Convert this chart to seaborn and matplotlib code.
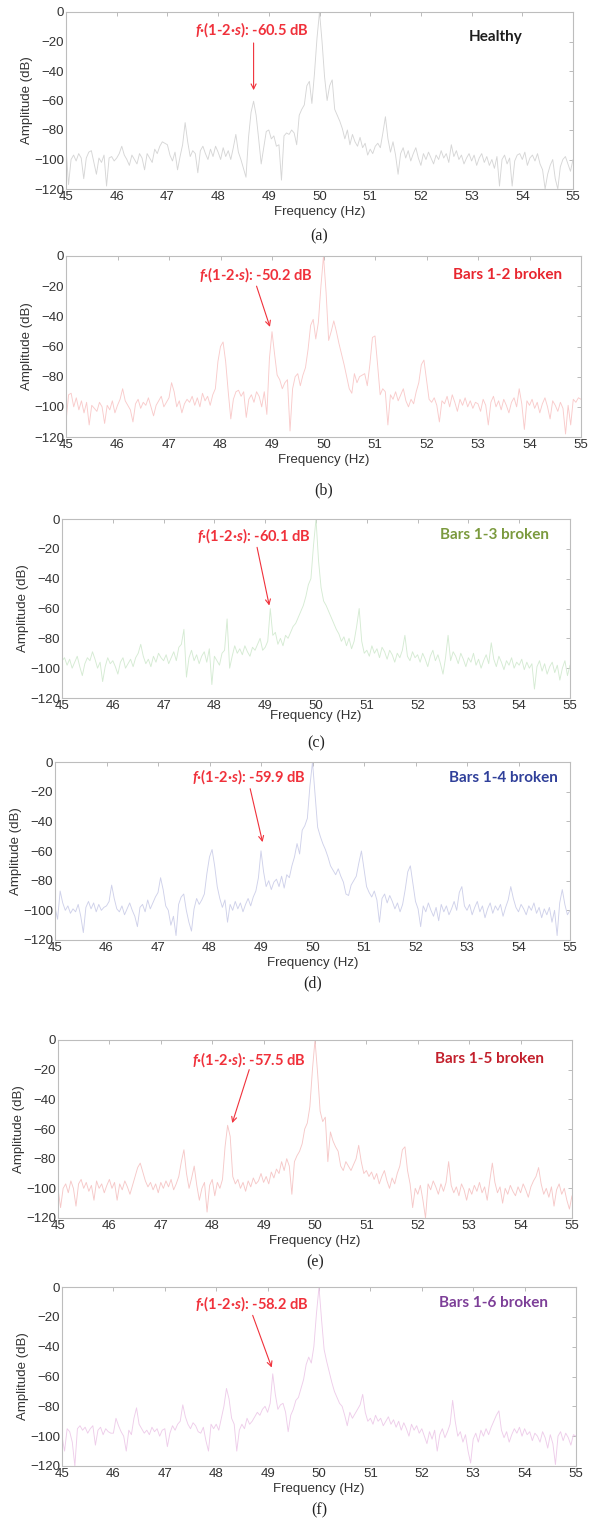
import numpy as np
import pandas as pd
import matplotlib
matplotlib.use("Agg")
import matplotlib.pyplot as plt
import seaborn as sns

# Frequency grid of the zoomed spectra (Hz), 0.05 Hz resolution
freq_hz = np.round(np.arange(45.0, 55.0001, 0.05), 2)

# Amplitude spectra (dB), one list per motor condition, 20 samples per Hz
amp_healthy = [
    -92, -117, -100, -97, -101, -96, -99, -113, -99, -95, -94, -102, -110, -99, -102, -97, -118, -99, -98, -101,
    -99, -96, -91, -97, -100, -104, -97, -100, -103, -96, -99, -107, -96, -99, -102, -93, -96, -91, -88, -89,
    -90, -97, -101, -95, -107, -98, -90, -75, -88, -98, -94, -96, -109, -94, -91, -96, -100, -93, -98, -91,
    -95, -100, -92, -98, -94, -100, -92, -83, -95, -100, -106, -112, -85, -68, -60.5, -70, -86, -103, -92, -81,
    -80, -86, -84, -91, -90, -114, -84, -82, -83, -80, -82, -90, -70, -66, -63, -50, -47, -62, -42, -18,
    0, -20, -44, -60, -50, -46, -66, -70, -74, -79, -86, -80, -90, -83, -88, -91, -85, -92, -89, -97,
    -93, -96, -91, -89, -92, -82, -71, -86, -95, -88, -97, -110, -96, -92, -99, -94, -101, -96, -92, -99,
    -104, -96, -100, -95, -99, -103, -97, -100, -94, -99, -96, -102, -90, -98, -94, -100, -97, -103, -99, -96,
    -101, -97, -104, -99, -96, -102, -98, -104, -100, -106, -98, -118, -100, -97, -103, -99, -118, -101, -97, -96,
    -100, -95, -104, -99, -97, -101, -96, -103, -107, -120, -110, -104, -100, -113, -120, -105, -100, -98, -103, -108,
    -100,
]
amp_bars_1_2 = [
    -110, -92, -91, -100, -94, -102, -96, -104, -97, -112, -99, -101, -103, -97, -100, -111, -99, -102, -96, -104,
    -99, -95, -88, -96, -99, -102, -110, -98, -95, -101, -97, -99, -94, -100, -106, -99, -96, -93, -100, -97,
    -94, -84, -90, -100, -96, -104, -98, -95, -97, -93, -99, -94, -100, -91, -96, -93, -99, -92, -88, -70,
    -60, -57, -70, -90, -108, -95, -90, -89, -93, -90, -107, -95, -92, -97, -90, -93, -100, -90, -105, -68,
    -50.2, -65, -79, -82, -88, -84, -82, -116, -88, -80, -78, -86, -79, -74, -62, -46, -42, -55, -44, -20,
    0, -24, -56, -50, -43, -50, -58, -65, -72, -80, -88, -91, -78, -84, -80, -79, -78, -86, -72, -54,
    -53, -72, -92, -88, -90, -112, -92, -95, -90, -96, -92, -88, -96, -100, -95, -98, -90, -84, -72, -69,
    -82, -95, -97, -94, -99, -110, -96, -98, -93, -100, -92, -97, -103, -95, -99, -94, -100, -96, -101, -97,
    -98, -103, -95, -99, -112, -97, -93, -100, -96, -102, -95, -99, -104, -97, -94, -100, -88, -98, -115, -96,
    -99, -95, -101, -97, -104, -98, -94, -100, -108, -96, -99, -103, -97, -101, -118, -99, -112, -95, -97, -94,
    -95,
]
amp_bars_1_3 = [
    -95, -93, -98, -94, -100, -96, -92, -99, -105, -97, -93, -95, -89, -94, -100, -96, -109, -99, -93, -97,
    -95, -99, -104, -96, -93, -100, -97, -94, -99, -93, -90, -84, -92, -97, -94, -99, -92, -96, -90, -93,
    -95, -91, -97, -93, -89, -95, -86, -84, -74, -106, -93, -88, -95, -91, -97, -92, -89, -96, -87, -111,
    -92, -95, -98, -90, -88, -67, -100, -92, -85, -90, -87, -91, -85, -89, -92, -86, -88, -84, -80, -88,
    -86, -82, -60.1, -78, -76, -84, -80, -85, -78, -80, -76, -72, -70, -66, -62, -58, -52, -44, -40, -18,
    0, -28, -46, -55, -58, -62, -66, -70, -74, -77, -82, -79, -85, -80, -87, -82, -72, -60, -82, -90,
    -88, -92, -85, -90, -87, -93, -86, -89, -94, -88, -91, -96, -90, -93, -88, -78, -92, -95, -89, -93,
    -91, -96, -90, -94, -99, -92, -88, -95, -91, -97, -104, -93, -78, -95, -89, -92, -97, -90, -94, -99,
    -93, -96, -90, -98, -94, -100, -95, -91, -97, -83, -94, -99, -92, -96, -101, -95, -98, -93, -100, -96,
    -98, -94, -101, -96, -100, -97, -114, -99, -95, -102, -97, -104, -99, -96, -103, -98, -108, -100, -95, -105,
    -98,
]
amp_bars_1_4 = [
    -98, -106, -87, -95, -100, -97, -102, -99, -101, -96, -104, -115, -98, -94, -99, -95, -101, -96, -100, -98,
    -97, -94, -83, -92, -99, -101, -97, -103, -99, -95, -100, -104, -111, -98, -96, -101, -93, -99, -95, -91,
    -88, -78, -86, -97, -100, -110, -104, -117, -96, -91, -89, -100, -108, -114, -99, -92, -96, -93, -89, -75,
    -64, -59, -70, -84, -92, -98, -93, -108, -96, -100, -94, -99, -95, -101, -96, -92, -97, -91, -87, -78,
    -59.9, -74, -84, -80, -86, -81, -79, -84, -77, -85, -76, -78, -70, -64, -55, -62, -46, -43, -38, -16,
    0, -22, -44, -50, -55, -59, -64, -70, -73, -76, -72, -77, -81, -89, -90, -83, -80, -77, -68, -60,
    -72, -84, -88, -91, -87, -93, -108, -92, -89, -95, -90, -94, -99, -95, -101, -96, -86, -74, -70, -82,
    -94, -99, -111, -97, -101, -95, -100, -104, -98, -107, -96, -101, -97, -103, -99, -94, -100, -88, -84, -97,
    -100, -96, -103, -98, -94, -101, -97, -105, -99, -95, -102, -97, -100, -96, -104, -98, -93, -84, -92, -98,
    -101, -96, -99, -103, -97, -100, -95, -102, -98, -105, -99, -103, -98, -108, -100, -117, -95, -86, -96, -103,
    -100,
]
amp_bars_1_5 = [
    -100, -113, -100, -97, -103, -95, -100, -112, -97, -94, -100, -96, -102, -98, -108, -95, -100, -97, -103, -98,
    -94, -100, -96, -108, -97, -101, -95, -99, -104, -98, -92, -86, -83, -89, -95, -99, -96, -101, -97, -103,
    -96, -100, -95, -99, -94, -101, -97, -92, -82, -74, -90, -100, -93, -85, -98, -108, -100, -96, -116, -98,
    -94, -105, -96, -100, -94, -72, -57.5, -65, -92, -97, -94, -100, -96, -102, -95, -99, -93, -97, -95, -90,
    -96, -92, -97, -89, -93, -87, -90, -82, -88, -80, -85, -104, -82, -78, -75, -70, -60, -56, -45, -20,
    0, -22, -48, -55, -52, -82, -62, -68, -72, -75, -85, -88, -82, -85, -88, -84, -80, -71, -82, -90,
    -88, -92, -89, -94, -90, -97, -92, -88, -95, -100, -93, -97, -90, -85, -74, -72, -88, -97, -113, -100,
    -104, -98, -108, -120, -97, -101, -95, -99, -104, -97, -102, -96, -82, -98, -103, -99, -105, -97, -101, -108,
    -100, -104, -98, -102, -96, -103, -99, -108, -95, -83, -96, -103, -99, -110, -100, -104, -98, -102, -105, -99,
    -103, -97, -101, -106, -99, -95, -92, -86, -97, -104, -100, -106, -99, -112, -101, -97, -104, -100, -108, -114,
    -105,
]
amp_bars_1_6 = [
    -100, -110, -95, -97, -104, -120, -95, -93, -96, -94, -98, -95, -93, -106, -96, -94, -99, -95, -97, -98,
    -98, -88, -93, -97, -100, -110, -96, -99, -88, -81, -92, -95, -98, -96, -99, -94, -97, -95, -100, -96,
    -95, -107, -98, -93, -96, -92, -90, -79, -87, -92, -95, -91, -93, -97, -98, -94, -103, -110, -92, -95,
    -92, -96, -88, -80, -68, -75, -88, -92, -110, -96, -92, -95, -88, -92, -90, -87, -84, -86, -82, -80,
    -84, -78, -58.2, -72, -82, -79, -78, -84, -97, -86, -82, -76, -74, -68, -62, -52, -47, -51, -40, -18,
    0, -22, -42, -50, -57, -64, -70, -74, -78, -80, -86, -93, -84, -88, -85, -82, -79, -72, -84, -90,
    -88, -92, -86, -90, -88, -93, -90, -87, -92, -89, -94, -90, -96, -91, -95, -100, -92, -96, -93, -98,
    -95, -100, -105, -97, -102, -96, -110, -99, -95, -101, -97, -92, -76, -90, -100, -97, -104, -99, -110, -118,
    -102, -98, -104, -96, -100, -95, -99, -94, -90, -86, -83, -96, -101, -97, -104, -99, -95, -98, -94, -100,
    -95, -99, -97, -103, -98, -100, -104, -97, -101, -108, -99, -105, -119, -100, -97, -103, -98, -101, -106, -99,
    -100,
]

panel_titles = ["Healthy", "Bars 1-2 broken", "Bars 1-3 broken",
                "Bars 1-4 broken", "Bars 1-5 broken", "Bars 1-6 broken"]
panel_tags = ["(a)", "(b)", "(c)", "(d)", "(e)", "(f)"]
sideband_db = ["-60.5", "-50.2", "-60.1", "-59.9", "-57.5", "-58.2"]
spectra = [amp_healthy, amp_bars_1_2, amp_bars_1_3, amp_bars_1_4, amp_bars_1_5, amp_bars_1_6]
for s in spectra:
    assert len(s) == len(freq_hz), len(s)

# Styling per panel
line_colors = ["#d6d6d6", "#f9cbcb", "#d5ebd3", "#cfd1ea", "#f6c8c8", "#eecdea"]
title_colors = ["#1e1e1e", "#e8262f", "#7b9a3e", "#30409a", "#c3202c", "#7d3f98"]
red = "#f0313b"

# Pixel layout: (left, right, top, bottom) of each axes box
W, H = 593, 1520
boxes = [(66, 573, 12, 189), (66, 581, 256, 437), (62, 570, 519, 698),
         (55, 570, 762, 940), (58, 572, 1040, 1218), (62, 576, 1287, 1466)]
tag_y = [236, 490, 743, 983, 1262, 1510]
xlabel_pad = [2.0, 2.0, -1.5, 2.0, 2.0, 2.0]

# Annotation geometry in data coordinates
text_pos = [(48.67, -12), (48.68, -12.5), (48.78, -11), (48.77, -10), (48.72, -13), (48.70, -11.3)]
arrow_from = [(48.70, -21), (48.70, -20), (48.84, -19), (48.79, -18), (48.72, -20), (48.71, -19)]
arrow_to = [(48.70, -53), (48.96, -47), (49.08, -58), (49.03, -54), (48.39, -56), (49.08, -54)]
title_pos = [(53.47, -17), (53.58, -12.5), (53.52, -11), (53.70, -11), (53.40, -13), (53.40, -11)]

df = pd.concat(
    [pd.DataFrame({"freq": freq_hz, "amp": amp, "panel": i}) for i, amp in enumerate(spectra)],
    ignore_index=True,
)

sns.set_theme(style="white")
plt.rcParams["font.family"] = ["Liberation Sans", "DejaVu Sans"]
plt.rcParams["mathtext.fontset"] = "custom"
plt.rcParams["mathtext.bfit"] = "Lato:bold:italic"
plt.rcParams["mathtext.rm"] = "Lato"

fig = plt.figure(figsize=(W / 100, H / 100), dpi=100)
fig.patch.set_facecolor("white")

for i in range(6):
    l, r, t, b = boxes[i]
    ax = fig.add_axes([l / W, 1 - b / H, (r - l) / W, (b - t) / H])
    sns.lineplot(data=df[df["panel"] == i], x="freq", y="amp", ax=ax,
                 color=line_colors[i], linewidth=0.65, estimator=None)
    ax.set_xlim(45, 55)
    ax.set_ylim(-120, 0)
    ax.set_xticks(range(45, 56))
    ax.set_yticks(range(-120, 1, 20))
    ax.tick_params(direction="in", length=3, width=0.6, color="#b0b0b0",
                   top=True, right=True, labelsize=9.5, labelcolor="#333333", pad=1.5)
    for sp in ax.spines.values():
        sp.set_color("#bdbdbd")
        sp.set_linewidth(0.8)
    ax.set_xlabel("Frequency (Hz)", fontsize=9.5, color="#333333", labelpad=xlabel_pad[i])
    ax.set_ylabel("Amplitude (dB)", fontsize=9.5, color="#333333", labelpad=1)

    tx, ty = text_pos[i]
    ax.text(tx, ty, r"$\mathbfit{f}$·(1-2·$\mathbfit{s}$): " + sideband_db[i] + " dB",
            family="Lato", fontweight="bold", fontsize=10.5, color=red,
            ha="center", va="center")
    ax.annotate("", xy=arrow_to[i], xytext=arrow_from[i],
                arrowprops=dict(arrowstyle="->", color=red, lw=0.8,
                                shrinkA=0, shrinkB=0, mutation_scale=9))
    px, py = title_pos[i]
    ax.text(px, py, panel_titles[i], family="Lato", fontweight="bold",
            fontsize=11, color=title_colors[i], ha="center", va="center")

    fig.text(((l + r) / 2) / W, 1 - tag_y[i] / H, panel_tags[i],
             family="Liberation Serif", fontsize=11.5, color="#222222",
             ha="center", va="center")

fig.savefig("out.png", dpi=100, facecolor="white")
